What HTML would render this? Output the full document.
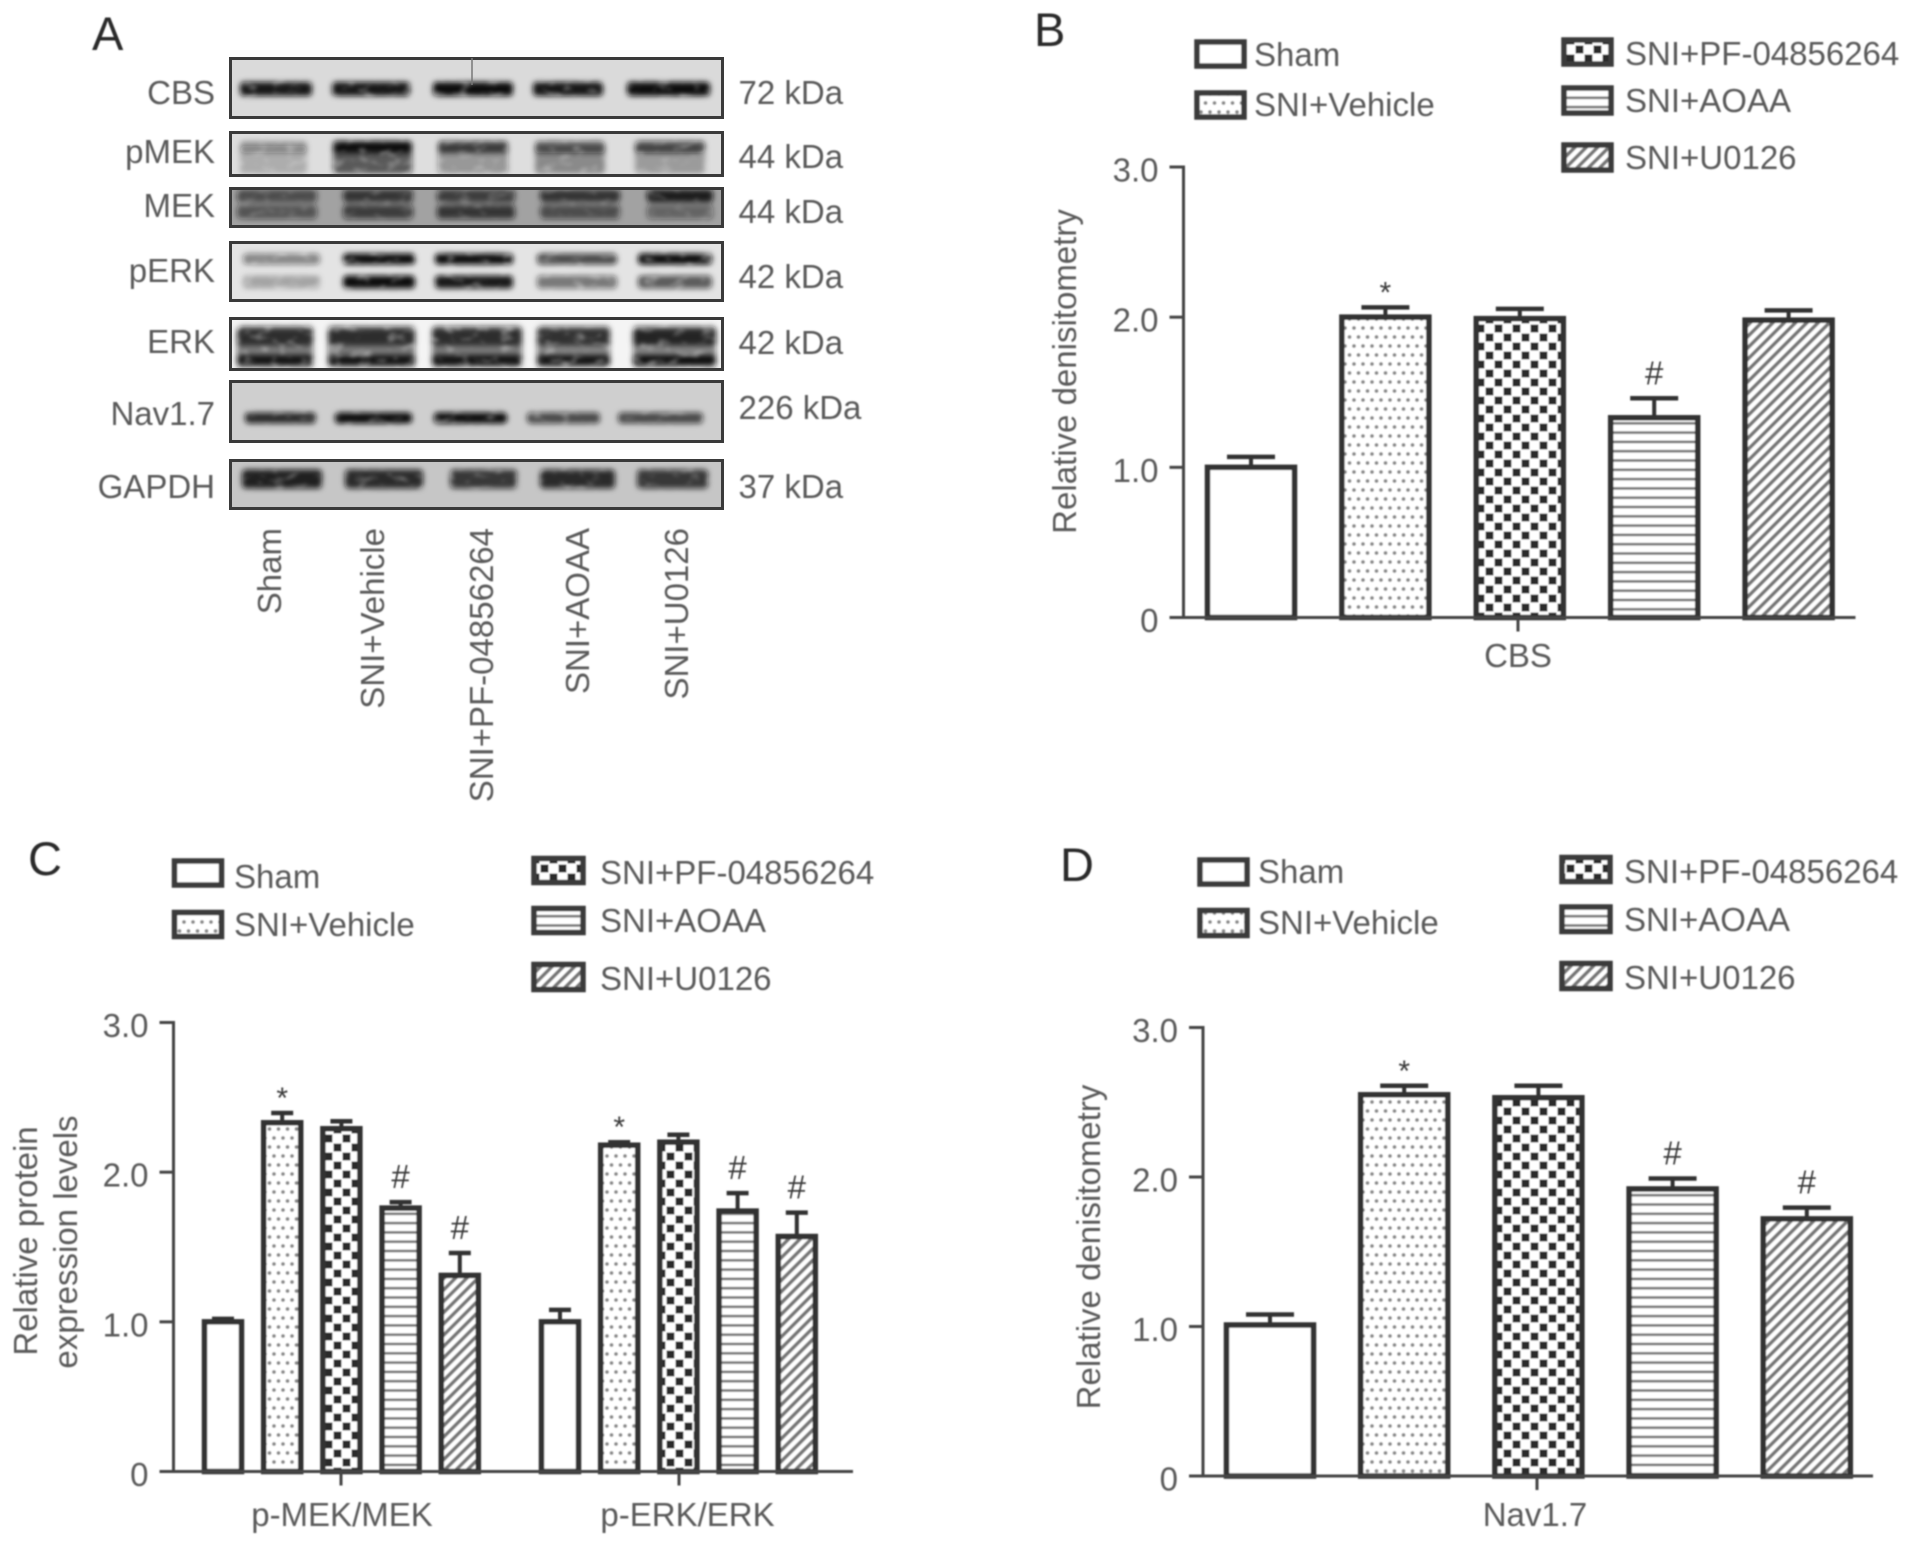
<!DOCTYPE html>
<html lang="en">
<head>
<meta charset="utf-8">
<title>Western blot and densitometry panels</title>
<style>
html,body{margin:0;padding:0;background:#fff;width:1913px;height:1545px;overflow:hidden}
svg{display:block}
text{font-family:"Liberation Sans",sans-serif;fill:#5a5a5a;font-size:33px}
.letter{font-size:47px;fill:#2a2a2a}
.lg{stroke:#3a3a3a;stroke-width:5.5}
</style>
</head>
<body>
<svg id="fig" xmlns="http://www.w3.org/2000/svg" width="1913" height="1545" viewBox="0 0 1913 1545">
<defs>
<filter id="soft" filterUnits="userSpaceOnUse" x="0" y="0" width="1913" height="1545"><feGaussianBlur stdDeviation="0.75"/></filter>
<filter id="bandf" filterUnits="userSpaceOnUse" x="200" y="40" width="560" height="490">
<feGaussianBlur in="SourceGraphic" stdDeviation="2.8" result="b"/>
<feTurbulence type="fractalNoise" baseFrequency="0.07 0.12" numOctaves="2" seed="4" result="n"/>
<feColorMatrix in="n" type="matrix" values="0 0 0 0 0 0 0 0 0 0 0 0 0 0 0 1.2 0 0 0 0.42" result="na"/>
<feGaussianBlur in="na" stdDeviation="1.6" result="nb"/>
<feComposite in="b" in2="nb" operator="in"/>
</filter>
<pattern id="p-dots" patternUnits="userSpaceOnUse" width="18" height="18"><rect width="18" height="18" fill="#fff"/><circle cx="4" cy="4" r="1.9" fill="#8a8a8a"/><circle cx="13" cy="4" r="1.9" fill="#8a8a8a"/><circle cx="8.5" cy="13" r="1.9" fill="#8a8a8a"/><circle cx="17.5" cy="13" r="1.9" fill="#8a8a8a"/><circle cx="-0.5" cy="13" r="1.9" fill="#8a8a8a"/></pattern>
<pattern id="p-check" patternUnits="userSpaceOnUse" width="18" height="18"><rect width="18" height="18" fill="#fff"/><rect x="0.5" y="0.5" width="8" height="8" fill="#2c2c2c"/><rect x="9.5" y="9.5" width="8" height="8" fill="#2c2c2c"/></pattern>
<pattern id="p-lines" patternUnits="userSpaceOnUse" width="9.3" height="9.3"><rect width="9.3" height="9.3" fill="#fff"/><rect y="3.5" width="9.3" height="2.6" fill="#777"/></pattern>
<pattern id="p-diag" patternUnits="userSpaceOnUse" width="8" height="8" patternTransform="rotate(45)"><rect width="8" height="8" fill="#fff"/><rect width="3.6" height="8" fill="#777"/></pattern>
</defs>

<g id="blots"></g>

<g id="soft-layer" filter="url(#soft)">
<g>
<text class="letter" x="92" y="50">A</text>
<text class="letter" x="1034" y="46">B</text>
<text class="letter" x="28" y="875">C</text>
<text class="letter" x="1060" y="881">D</text>
</g>

<g text-anchor="end">
<text x="215" y="104">CBS</text>
<text x="215" y="163">pMEK</text>
<text x="215" y="217">MEK</text>
<text x="215" y="282">pERK</text>
<text x="215" y="353">ERK</text>
<text x="215" y="425">Nav1.7</text>
<text x="215" y="498">GAPDH</text>
</g>
<g>
<text x="738.5" y="104">72 kDa</text>
<text x="738.5" y="168">44 kDa</text>
<text x="738.5" y="223">44 kDa</text>
<text x="738.5" y="288">42 kDa</text>
<text x="738.5" y="354">42 kDa</text>
<text x="738.5" y="419">226 kDa</text>
<text x="738.5" y="498">37 kDa</text>
</g>
<g text-anchor="end">
<text transform="translate(281 528) rotate(-90)">Sham</text>
<text transform="translate(384 528) rotate(-90)">SNI+Vehicle</text>
<text transform="translate(493 528) rotate(-90)">SNI+PF-04856264</text>
<text transform="translate(589 528) rotate(-90)">SNI+AOAA</text>
<text transform="translate(688 528) rotate(-90)">SNI+U0126</text>
</g>

<g>
<rect class="lg" x="1197" y="42" width="47" height="24" fill="#fff"/>
<text x="1254" y="66">Sham</text>
<rect class="lg" x="1197" y="93" width="47" height="24" fill="url(#p-dots)"/>
<text x="1254" y="116">SNI+Vehicle</text>
<rect class="lg" x="1564" y="40" width="47" height="24" fill="url(#p-check)"/>
<text x="1625" y="65">SNI+PF-04856264</text>
<rect class="lg" x="1564" y="88" width="47" height="25" fill="url(#p-lines)"/>
<text x="1625" y="112">SNI+AOAA</text>
<rect class="lg" x="1564" y="145" width="47" height="25" fill="url(#p-diag)"/>
<text x="1625" y="169">SNI+U0126</text>
</g>
<g>
<rect class="lg" x="174.5" y="861" width="47" height="24" fill="#fff"/>
<text x="234" y="888">Sham</text>
<rect class="lg" x="174.5" y="912.5" width="47" height="24" fill="url(#p-dots)"/>
<text x="234" y="936">SNI+Vehicle</text>
<rect class="lg" x="534" y="858.5" width="49" height="24" fill="url(#p-check)"/>
<text x="600" y="884">SNI+PF-04856264</text>
<rect class="lg" x="534" y="908.5" width="49" height="24" fill="url(#p-lines)"/>
<text x="600" y="932">SNI+AOAA</text>
<rect class="lg" x="534" y="964.5" width="49" height="25" fill="url(#p-diag)"/>
<text x="600" y="990">SNI+U0126</text>
</g>
<g>
<rect class="lg" x="1200" y="860" width="47" height="24" fill="#fff"/>
<text x="1258" y="883">Sham</text>
<rect class="lg" x="1200" y="910.5" width="47" height="25" fill="url(#p-dots)"/>
<text x="1258" y="934">SNI+Vehicle</text>
<rect class="lg" x="1562" y="857.5" width="48" height="24" fill="url(#p-check)"/>
<text x="1624" y="883">SNI+PF-04856264</text>
<rect class="lg" x="1562" y="907" width="48" height="24.5" fill="url(#p-lines)"/>
<text x="1624" y="931">SNI+AOAA</text>
<rect class="lg" x="1562" y="963.5" width="48" height="25" fill="url(#p-diag)"/>
<text x="1624" y="989">SNI+U0126</text>
</g>

<text transform="translate(1076 371.5) rotate(-90)" text-anchor="middle">Relative denisitometry</text>
<text transform="translate(37 1241) rotate(-90)" text-anchor="middle">Relative protein</text>
<text transform="translate(77 1242) rotate(-90)" text-anchor="middle">expression levels</text>
<text transform="translate(1100 1247) rotate(-90)" text-anchor="middle">Relative denisitometry</text>

<g id="chart-b"></g>
<g id="chart-c"></g>
<g id="chart-d"></g>
</g>
</svg>

<script>
// ---- chart data ----
const yTickValues = [0, 1, 2, 3];
const yTickLabels = ['0', '1.0', '2.0', '3.0'];
const seriesNames = ['sham', 'vehicle', 'pf', 'aoaa', 'u0126'];

const bGroups = ['CBS'];
const bMeans = [[1.00, 2.00, 1.99, 1.33, 1.98]];
const bErrorTops = [[1.07, 2.065, 2.055, 1.46, 2.045]];
const bMarks = [['', '*', '', '#', '']];

const cGroups = ['p-MEK/MEK', 'p-ERK/ERK'];
const cMeans = [[1.00, 2.33, 2.29, 1.76, 1.31], [1.00, 2.18, 2.20, 1.74, 1.57]];
const cErrorTops = [[1.02, 2.395, 2.34, 1.80, 1.46], [1.08, 2.20, 2.25, 1.86, 1.73]];
const cMarks = [['', '*', '', '#', '#'], ['', '*', '', '#', '#']];

const dGroups = ['Nav1.7'];
const dMeans = [[1.01, 2.55, 2.53, 1.92, 1.72]];
const dErrorTops = [[1.08, 2.61, 2.61, 1.99, 1.795]];
const dMarks = [['', '*', '', '#', '#']];

const SVGNS = 'http://www.w3.org/2000/svg';
const seriesFill = ['#fff', 'url(#p-dots)', 'url(#p-check)', 'url(#p-lines)', 'url(#p-diag)'];

function mk(tag, attrs, parent, txt) {
  const el = document.createElementNS(SVGNS, tag);
  for (const k in attrs) el.setAttribute(k, attrs[k]);
  if (txt !== undefined) el.textContent = txt;
  parent.appendChild(el);
  return el;
}

function drawChart(root, layout, groups, means, errorTops, marks) {
  const maxV = yTickValues[yTickValues.length - 1];
  const yScale = v => layout.y0 - v * (layout.y0 - layout.yTop) / maxV;
  const xScale = (g, i) => layout.groupLeft[g] + i * layout.step;

  groups.forEach((name, g) => {
    means[g].forEach((v, i) => {
      const left = xScale(g, i);
      const cx = left + layout.barW / 2;
      const top = yScale(v);
      const errY = yScale(errorTops[g][i]);

      const stem = mk('line', {x1: cx, x2: cx, y1: top, y2: errY, stroke: '#333', 'stroke-width': 4}, root);
      
      

      const cap = mk('line', {x1: cx - layout.capW / 2, x2: cx + layout.capW / 2, y1: errY, y2: errY, stroke: '#333', 'stroke-width': 4.5}, root);
      
      

      const bar = mk('rect', {x: left + 2.5, y: top, width: layout.barW - 5, height: layout.y0 - top, fill: seriesFill[i], stroke: '#333', 'stroke-width': 5.5}, root);
      
      

      const m = marks[g][i];
      if (m) {
        const isStar = m === '*';
        const mark = mk('text', {x: cx, y: errY + (isStar ? -5 : -14), 'text-anchor': 'middle', style: 'font-size:' + (isStar ? 30 : 33) + 'px;fill:#3a3a3a'}, root, m);
        
        
      }
    });

    const tickX = layout.groupTick[g];
    const tick = mk('line', {x1: tickX, x2: tickX, y1: layout.y0, y2: layout.y0 + 14, stroke: '#444', 'stroke-width': 3}, root);
    
    

    const label = mk('text', {x: layout.groupLabel[g], y: layout.labelY, 'text-anchor': 'middle'}, root, name);
    
    
  });

  const yAxis = mk('line', {x1: layout.axisX, x2: layout.axisX, y1: layout.yTop - 1.5, y2: layout.y0, stroke: '#444', 'stroke-width': 3}, root);
  
  

  const xAxis = mk('line', {x1: layout.axisX - 14, x2: layout.axisEnd, y1: layout.y0, y2: layout.y0, stroke: '#444', 'stroke-width': 3}, root);
  
  

  yTickValues.forEach((v, i) => {
    const y = yScale(v);
    const t = mk('line', {x1: layout.axisX - 14, x2: layout.axisX, y1: y, y2: y, stroke: '#444', 'stroke-width': 3}, root);
    
    

    const lab = mk('text', {x: layout.axisX - 25, y: y + 14.5, 'text-anchor': 'end'}, root, yTickLabels[i]);
    
    
  });
}

drawChart(document.getElementById('chart-b'),
  {axisX: 1183.5, axisEnd: 1855.5, y0: 617.5, yTop: 167, groupLeft: [1205], step: 134.4, barW: 92, capW: 48, groupTick: [1518], groupLabel: [1518], labelY: 667},
  bGroups, bMeans, bErrorTops, bMarks);
drawChart(document.getElementById('chart-c'),
  {axisX: 173.5, axisEnd: 853, y0: 1471.5, yTop: 1022.5, groupLeft: [202, 539], step: 59.2, barW: 42, capW: 22, groupTick: [341, 679], groupLabel: [342, 687.5], labelY: 1526},
  cGroups, cMeans, cErrorTops, cMarks);
drawChart(document.getElementById('chart-d'),
  {axisX: 1203, axisEnd: 1873, y0: 1476, yTop: 1027.5, groupLeft: [1224], step: 134.2, barW: 92, capW: 48, groupTick: [1537], groupLabel: [1535], labelY: 1526},
  dGroups, dMeans, dErrorTops, dMarks);

// ---- western blot rows (photographic appearance, not chart data) ----
const blotLeft = 229, blotRight = 724;
const blotRows = [
  {n: 'cbs', y0: 57, y1: 119, bg: '#dadada', lanes: [[240, 312], [332, 410], [433, 513], [533, 603], [627, 710]],
    bands: [{y: 89, h: 14, d: [.95, .95, 1, .95, 1]}]},
  {n: 'pmek', y0: 131, y1: 177, bg: '#dedede', lanes: [[240, 307], [333, 412], [438, 508], [535, 605], [635, 705]],
    bands: [{y: 160, h: 28, d: [.22, .65, .36, .38, .3]}, {y: 147, h: 12, d: [.3, 1, .72, .6, .68]}]},
  {n: 'mek', y0: 187, y1: 228, bg: '#a2a2a2', lanes: [[237, 317], [343, 413], [437, 515], [540, 620], [647, 713]],
    bands: [{y: 196, h: 13, d: [.6, .75, .7, .75, .9]}, {y: 212, h: 14, d: [.55, .7, .75, .6, .45]}]},
  {n: 'perk', y0: 241, y1: 302, bg: '#e4e4e4', lanes: [[243, 320], [343, 415], [435, 513], [537, 617], [638, 712]],
    bands: [{y: 259, h: 11, d: [.45, 1, 1, .72, 1]}, {y: 282, h: 13, d: [.28, 1, .95, .52, .65]}]},
  {n: 'erk', y0: 317, y1: 371, bg: '#f4f4f4', lanes: [[237, 313], [328, 415], [432, 522], [537, 610], [633, 716]],
    bands: [{y: 347, h: 42, d: [.55, .55, .55, .5, .5]}, {y: 337, h: 17, d: [.7, .7, .7, .7, .8]}, {y: 360, h: 10, d: [.95, .95, .95, .95, 1]}]},
  {n: 'nav17', y0: 380, y1: 443, bg: '#cfcfcf', lanes: [[245, 316], [335, 412], [434, 507], [527, 600], [618, 703]],
    bands: [{y: 418, h: 11, d: [.85, 1, 1, .7, .7]}]},
  {n: 'gapdh', y0: 459, y1: 510, bg: '#c6c6c6', lanes: [[242, 322], [345, 423], [450, 517], [540, 615], [637, 708]],
    bands: [{y: 479, h: 19, d: [.9, .85, .78, .85, .78]}]}
];

const blotRoot = document.getElementById('blots');
blotRows.forEach(r => {
  const w = blotRight - blotLeft, h = r.y1 - r.y0;
  const clip = mk('svg', {x: blotLeft, y: r.y0, width: w, height: h, viewBox: blotLeft + ' ' + r.y0 + ' ' + w + ' ' + h}, blotRoot);
  
  

  const bgRect = mk('rect', {x: blotLeft, y: r.y0, width: w, height: h, fill: r.bg}, clip);
  
  

  const bandGroup = mk('g', {filter: 'url(#bandf)'}, clip);
  
  

  r.bands.forEach(b => {
    r.lanes.forEach((l, i) => {
      const band = mk('rect', {x: l[0], y: b.y - b.h / 2, width: l[1] - l[0], height: b.h, rx: 4, fill: '#111', 'fill-opacity': b.d[i]}, bandGroup);
      
      
    });
  });

  const frame = mk('rect', {x: blotLeft + 1.5, y: r.y0 + 1.5, width: w - 3, height: h - 3, fill: 'none', stroke: '#3a3a3a', 'stroke-width': 3}, clip);
  
  
});

const scratch = mk('line', {x1: 472, x2: 472, y1: 58, y2: 85, stroke: '#777', 'stroke-width': 1.5}, blotRoot);


</script>
</body>
</html>
